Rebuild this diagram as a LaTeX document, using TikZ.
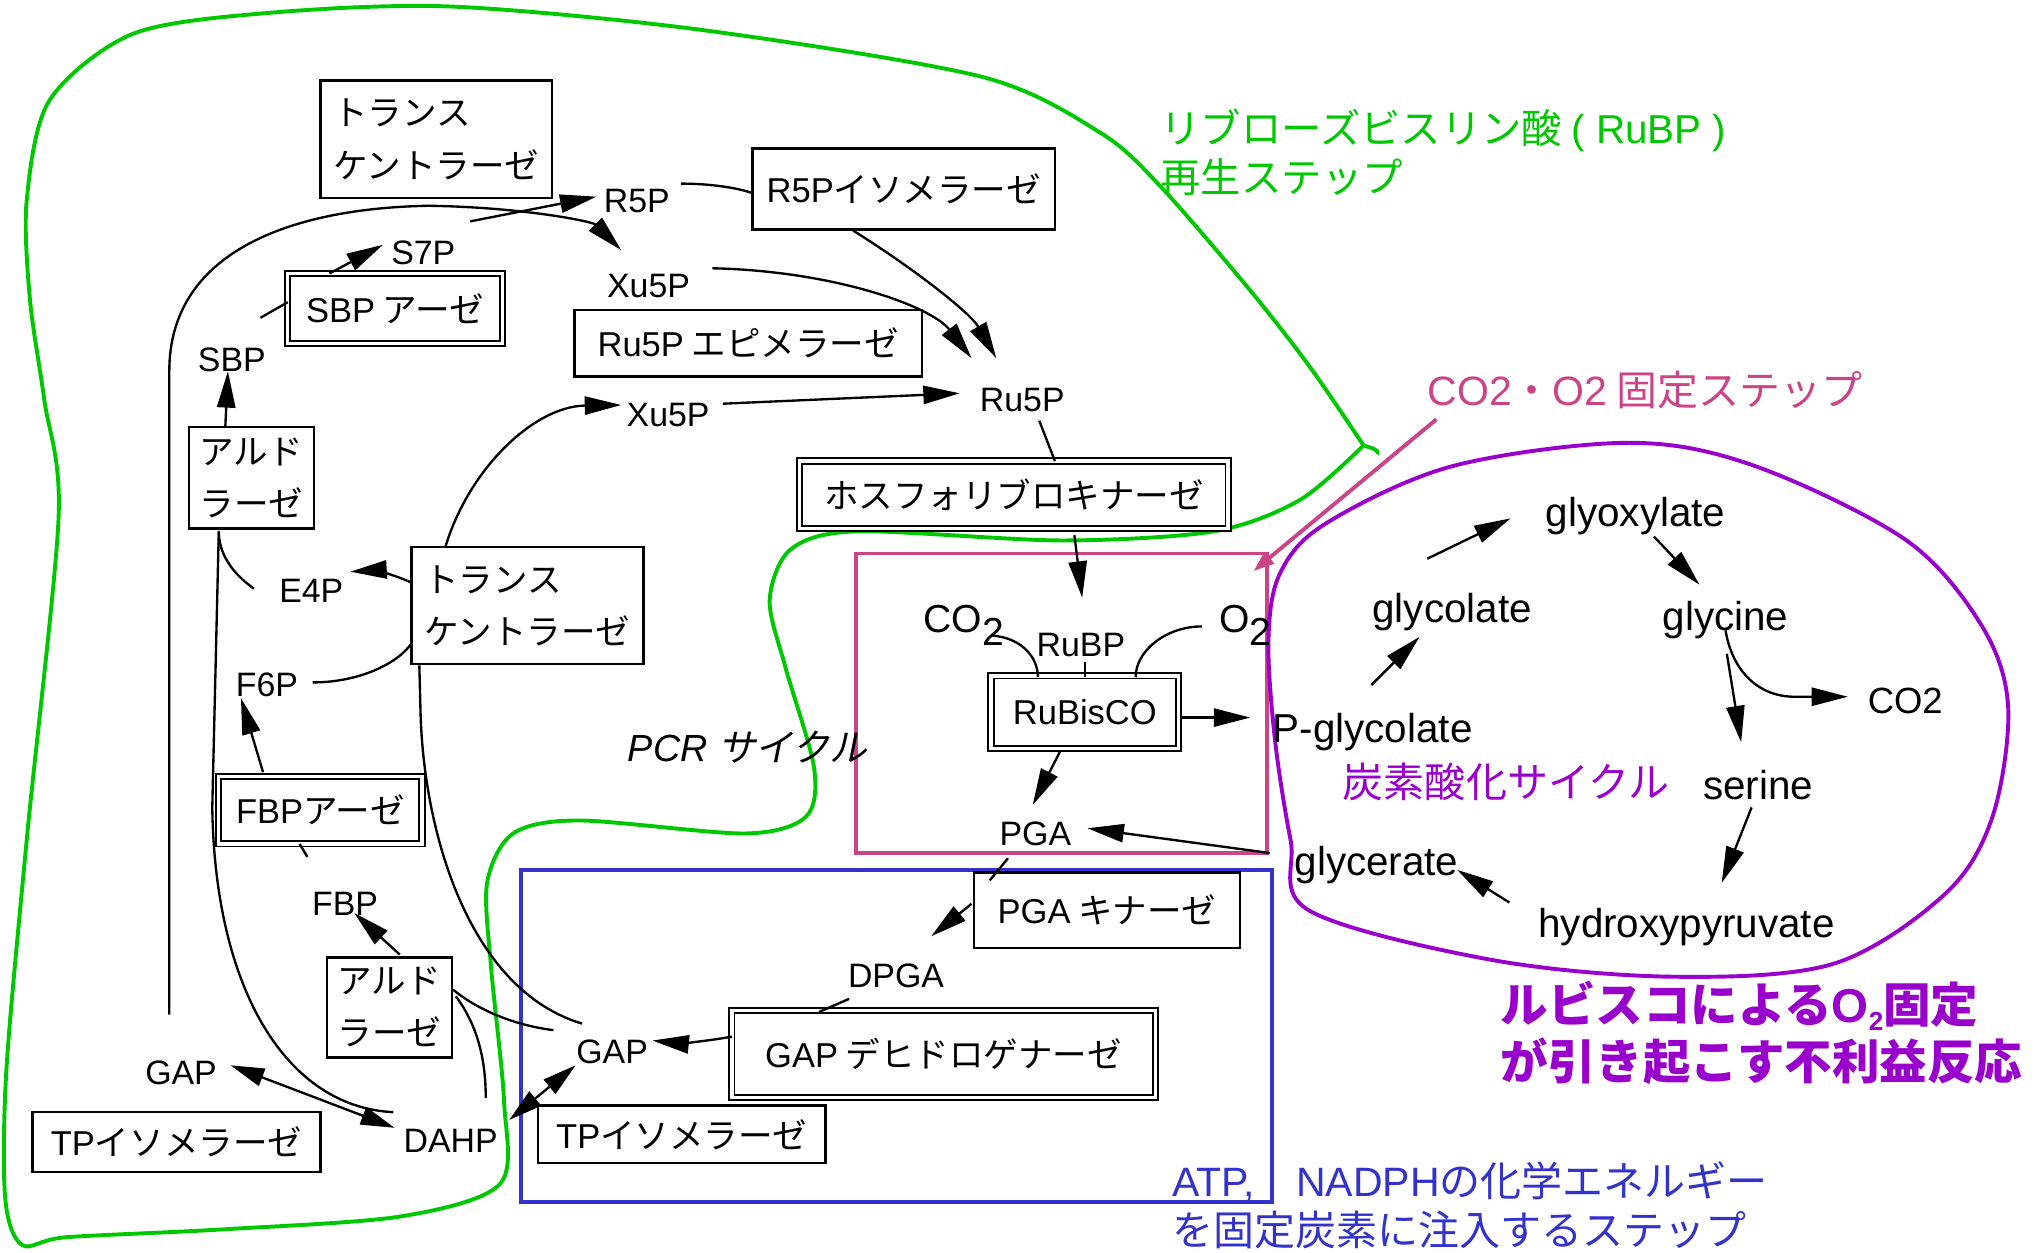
\documentclass[tikz,border=0pt]{standalone}
\usepackage{fontspec}
\setmainfont{Liberation Sans}
\newfontfamily\jp{Noto Sans CJK JP}
\newfontfamily\jpit{Noto Sans CJK JP}[FakeSlant=0.2]
\newcommand\latn[1]{{\rmfamily #1}}
\usetikzlibrary{arrows.meta}
\definecolor{cgreen}{RGB}{0,200,0}
\definecolor{cpink}{RGB}{204,68,136}
\definecolor{cblue}{RGB}{51,51,204}
\definecolor{cpurple}{RGB}{153,0,204}
\tikzset{
  lbl/.style={font=\fontsize{26}{30}\selectfont, inner sep=1pt},
  plbl/.style={font=\fontsize{31}{36}\selectfont, inner sep=1pt},
  ebox/.style={draw, line width=2pt, font=\jp\fontsize{26.5}{40}\selectfont, align=left, inner sep=0pt},
  dbox/.style={ebox, double, double distance=2.5pt, line width=1.5pt},
  conn/.style={line width=1.8pt},
  arr/.style={conn, -{Triangle[length=28pt,width=14pt]}},
  darr/.style={conn, {Triangle[length=26pt,width=14pt]}-{Triangle[length=26pt,width=14pt]}},
  region/.style={line width=3pt, inner sep=0pt}
}
\begin{document}
\begin{tikzpicture}[x=1pt,y=-1pt]
\useasboundingbox (0,0) rectangle (1568,962);
% ---------- coloured regions ----------
\draw[cgreen, line width=3pt, line join=round] plot[smooth, tension=0.5] coordinates {
 (1047,342) (998,384) (932,408) (815,415) (658,408) (607,422) (591,461) (603,512)
 (625,589) (619,627) (572,640) (445,630) (394,640) (374,678) (377,742) (387,845)
 (384,909) (308,934) (171,944) (51,950) (17,956) (4,920) (5,820) (21,640)
 (45,397) (34,307) (23,230) (20.5,154) (38,77) (102,26) (205,10) (346,5) (539,23)
 (754,59) (845,102) (891,143) (960,223) (1006,282) (1047,342)};
\draw[cgreen, line width=3pt, line cap=round] (1047,342) .. controls (1053,344) and (1058,345) .. (1058,348);
\node[region, draw=cpink, minimum width=316, minimum height=230] (PB) at (815,540) {};
\node[region, draw=cblue, minimum width=577, minimum height=255] (BB) at (688.5,795.5) {};
\draw[cpurple, line width=3pt] plot[smooth cycle, tension=0.55] coordinates {
 (1251,340) (1348,358) (1464,415) (1522,481) (1542,543) (1530,627) (1494,686)
 (1408,740) (1285,750) (1145,737) (1005,699) (991,645) (979,568) (974,491)
 (983,440) (1018,402) (1115,358)};
% ---------- region labels ----------
\node[anchor=base west, inner sep=0pt, align=left, text=cgreen, font=\jp\fontsize{31}{38}\selectfont] (GL) at (891,148) {リブローズビスリン酸\hspace{7pt}\latn{( RuBP )}\\再生ステップ};
\node[anchor=base west, inner sep=0pt, text=cpink, font=\jp\fontsize{31.5}{36}\selectfont] (PL) at (1096,311) {\latn{CO2}・\latn{O2} 固定ステップ};
\draw[cpink, line width=3pt, -{Triangle[length=16pt,width=11pt]}] ([shift={(7,11)}]PL.base west) -- ([shift={(-12,15)}]PB.north east);
\node[anchor=base west, inner sep=0pt, text=cpurple, font=\jp\fontsize{31.5}{36}\selectfont] (CL) at (1031,612) {炭素酸化サイクル};
\node[anchor=base west, inner sep=0pt, align=left, text=cblue, font=\jp\fontsize{31.5}{37}\selectfont] (BL) at (900,956) {\latn{ATP,}　\latn{NADPH}の化学エネルギー\\を固定炭素に注入するステップ};
\node[anchor=base west, inner sep=0pt, align=left, text=cpurple, font=\jp\bfseries\fontsize{36.5}{44}\selectfont] (XL) at (1152,829) {ルビスコによる\latn{O}\raisebox{-6pt}{\fontsize{20}{20}\selectfont\latn{2}}固定\\が引き起こす不利益反応};
\node[font=\fontsize{29}{32}\selectfont] (PCR) at (574,574) {\itshape PCR {\jpit サイクル}};
% ---------- enzyme boxes ----------
\node[ebox, minimum width=178, minimum height=90] (TK1) at (335,107) {トランス\\ケントラーゼ};
\node[ebox, minimum width=232, minimum height=62] (R5PI) at (694,145) {\latn{R5P}イソメラーゼ};
\node[dbox, minimum width=165, minimum height=54] (SBPase) at (303.5,237) {\latn{SBP} アーゼ};
\node[ebox, minimum width=267, minimum height=51] (Ru5PE) at (574.5,263.5) {\latn{Ru5P} エピメラーゼ};
\node[ebox, minimum width=96, minimum height=78] (Ald1) at (193,367) {アルド\\ラーゼ};
\node[dbox, minimum width=329, minimum height=52] (PRK) at (778.5,380) {ホスフォリブロキナーゼ};
\node[ebox, minimum width=178, minimum height=90] (TK2) at (405,465) {トランス\\ケントラーゼ};
\node[dbox, minimum width=156, minimum height=52] (FBPase) at (246,622) {\latn{FBP}アーゼ};
\node[dbox, minimum width=144, minimum height=56] (RuBisCO) at (833,547) {\latn{RuBisCO}};
\node[ebox, minimum width=204, minimum height=58] (PGAK) at (850,699) {\latn{PGA} キナーゼ};
\node[ebox, minimum width=96, minimum height=77] (Ald2) at (299,773.5) {アルド\\ラーゼ};
\node[dbox, minimum width=325, minimum height=67] (GAPDH) at (724.5,809.5) {\latn{GAP} デヒドロゲナーゼ};
\node[ebox, minimum width=221, minimum height=46] (TPI1) at (135.5,877) {\latn{TP}イソメラーゼ};
\node[ebox, minimum width=221, minimum height=44] (TPI2) at (523.5,871) {\latn{TP}イソメラーゼ};
% ---------- metabolites ----------
\node[lbl] (R5P) at (489,154) {R5P};
\node[lbl] (S7P) at (325,194) {S7P};
\node[lbl] (Xu5Pa) at (498,220) {Xu5P};
\node[lbl] (SBP) at (178,276) {SBP};
\node[lbl] (Xu5Pb) at (513,319) {Xu5P};
\node[lbl] (Ru5P) at (785,307) {Ru5P};
\node[lbl] (E4P) at (239,454) {E4P};
\node[lbl] (F6P) at (205,526) {F6P};
\node[lbl] (FBP) at (265,694) {FBP};
\node[lbl] (GAPl) at (139,824) {GAP};
\node[lbl] (DAHP) at (346,876) {DAHP};
\node[lbl] (GAPm) at (470,808) {GAP};
\node[lbl] (DPGA) at (688,749) {DPGA};
\node[lbl] (PGA) at (795,640) {PGA};
\node[lbl] (RuBP) at (830,495) {RuBP};
\node[anchor=base west, inner sep=0pt, font=\fontsize{30}{34}\selectfont] (CO2) at (709,486) {CO\raisebox{-10pt}{2}};
\node[anchor=base west, inner sep=0pt, font=\fontsize{30}{34}\selectfont] (O2) at (936,486) {O\raisebox{-10pt}{2}};
\node[plbl] (glyoxylate) at (1256,396) {glyoxylate};
\node[plbl] (glycolate) at (1115,470) {glycolate};
\node[plbl] (glycine) at (1325,476) {glycine};
\node[lbl, font=\fontsize{28}{32}\selectfont] (CO2r) at (1463,538) {CO2};
\node[plbl] (Pgly) at (1054,562) {P-glycolate};
\node[plbl] (serine) at (1350,603) {serine};
\node[plbl] (glycerate) at (1057,664) {glycerate};
\node[plbl] (hpyr) at (1295,712) {hydroxypyruvate};
% ---------- connectors ----------
\draw[darr] ([shift={(38,-6)}]GAPl.center) -- ([shift={(-43,-10)}]DAHP.center);
\draw[darr] ([shift={(-28,10)}]GAPm.center) -- ([shift={(45,-16)}]DAHP.center);
\draw[arr] ([shift={(-9,-45)}]GAPl.center) -- (130,285) .. controls (130,195) and (220,160) .. (329,158) .. controls (400,159) and (455,170) .. ([shift={(-21,-28)}]Xu5Pa.center);
\draw[arr] ([shift={(26,63)}]TK1.center) -- ([shift={(-31,-3)}]R5P.center);
\draw[arr] ([shift={(-50.5,-27)}]SBPase.center) -- ([shift={(-31,-6)}]S7P.center);
\draw[conn] ([shift={(22,-32)}]SBP.center) -- ([shift={(-82.5,-5)}]SBPase.center);
\draw[arr] ([shift={(-20,-39)}]Ald1.center) -- ([shift={(-3,9)}]SBP.center);
\draw[conn] ([shift={(34,-13)}]R5P.center) .. controls (545,141) and (565,144) .. ([shift={(-117,3)}]R5PI.center);
\draw[arr] ([shift={(-39,32)}]R5PI.center) .. controls (700,205) and (745,240) .. ([shift={(-20,-32)}]Ru5P.center);
\draw[arr] ([shift={(49,-14)}]Xu5Pa.center) .. controls (640,208) and (715,235) .. ([shift={(-39,-32)}]Ru5P.center);
\draw[arr] ([shift={(42,-9)}]Xu5Pb.center) -- ([shift={(-48,-5)}]Ru5P.center);
\draw[arr] ([shift={(-63,-45)}]TK2.center) .. controls (360,360) and (410,312) .. ([shift={(-36,-8)}]Xu5Pb.center);
\draw[conn] ([shift={(13,16)}]Ru5P.center) -- ([shift={(31.5,-26)}]PRK.center);
\draw[arr] ([shift={(46.5,31)}]PRK.center) -- ([shift={(1,-36)}]RuBP.center);
\draw[arr] ([shift={(-90,-18)}]TK2.center) .. controls (300,440) and (285,438) .. ([shift={(30,-15)}]E4P.center);
\draw[conn] ([shift={(-44,-2)}]E4P.center) .. controls (178,440) and (168,425) .. ([shift={(-25,41)}]Ald1.center);
\draw[conn] ([shift={(-89,29)}]TK2.center) .. controls (305,510) and (275,524) .. ([shift={(35,-2)}]F6P.center);
\draw[arr] ([shift={(-44,-29)}]FBPase.center) -- ([shift={(-20,10)}]F6P.center);
\draw[conn] ([shift={(-29,-36)}]FBP.center) -- ([shift={(-16,26)}]FBPase.center);
\draw[arr] ([shift={(8,-40.5)}]Ald2.center) -- ([shift={(7,7)}]FBP.center);
\draw[conn] ([shift={(49,-13.5)}]Ald2.center) .. controls (370,778) and (400,788) .. ([shift={(-45,-17)}]GAPm.center);
\draw[conn] ([shift={(51,-8.5)}]Ald2.center) .. controls (365,785) and (373,810) .. ([shift={(27,-33)}]DAHP.center);
\draw[conn] ([shift={(-83,46)}]TK2.center) -- (323,550) .. controls (326,640) and (360,760) .. ([shift={(-23,-22)}]GAPm.center);
\draw[conn] ([shift={(-25,41)}]Ald1.center) -- (163,620) .. controls (165,760) and (220,850) .. ([shift={(-44,-22)}]DAHP.center);
\draw[conn] ([shift={(-21,19)}]PGA.center) -- ([shift={(-90,-23)}]PGAK.center);
\draw[arr] ([shift={(-104,-5)}]PGAK.center) -- ([shift={(27,-30)}]DPGA.center);
\draw[conn] ([shift={(-36,18)}]DPGA.center) -- ([shift={(-95.5,-32.5)}]GAPDH.center);
\draw[arr] ([shift={(-162.5,-13.5)}]GAPDH.center) .. controls (540,800) and (520,801) .. ([shift={(31,-9)}]GAPm.center);
\draw[conn] ([shift={(53,2)}]CO2.base west) .. controls (785,490) and (797,505) .. ([shift={(-36,-27)}]RuBisCO.center);
\draw[conn] ([shift={(-13,-5)}]O2.base west) .. controls (895,481) and (872,500) .. ([shift={(39,-27)}]RuBisCO.center);
\draw[conn] ([shift={(3,13)}]RuBP.center) -- ([shift={(0,-27)}]RuBisCO.center);
\draw[arr] ([shift={(-19,30)}]RuBisCO.center) -- ([shift={(-2,-22)}]PGA.center);
\draw[arr] ([shift={(74,4)}]RuBisCO.center) -- ([shift={(-94,-11)}]Pgly.center);
\draw[arr] ([shift={(-82,-9)}]glycerate.center) -- ([shift={(40,-4)}]PGA.center);
\draw[arr] ([shift={(-1,-36)}]Pgly.center) -- ([shift={(-25,19)}]glycolate.center);
\draw[arr] ([shift={(-19,-41)}]glycolate.center) -- ([shift={(-96,2)}]glyoxylate.center);
\draw[arr] ([shift={(14,16)}]glyoxylate.center) -- ([shift={(-20,-27)}]glycine.center);
\draw[arr] ([shift={(1,26)}]glycine.center) -- ([shift={(-13,-33)}]serine.center);
\draw[arr] ([shift={(0,8)}]glycine.center) .. controls (1330,515) and (1350,535) .. (1378,535) -- ([shift={(-44,-3)}]CO2r.center);
\draw[arr] ([shift={(-5,17)}]serine.center) -- ([shift={(27,-34)}]hpyr.center);
\draw[arr] ([shift={(-136,-19)}]hpyr.center) -- ([shift={(62,4)}]glycerate.center);
\end{tikzpicture}
\end{document}
